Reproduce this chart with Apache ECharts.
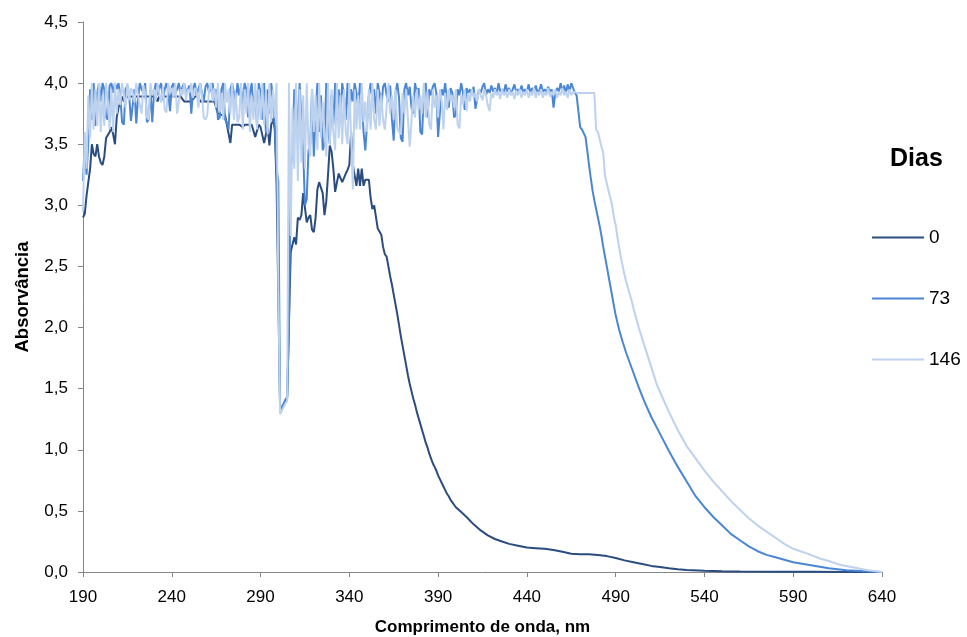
<!DOCTYPE html>
<html>
<head>
<meta charset="utf-8">
<script src="https://cdn.jsdelivr.net/npm/echarts@6/dist/echarts.min.js"></script>
<style>
  html, body { margin: 0; padding: 0; background: #ffffff; }
  #chart { width: 967px; height: 637px; }
</style>
</head>
<body>
<div id="chart"></div>
<script>
// UV-Vis absorbance spectra, one scan per storage time (days)
const seriesNames = ['0', '73', '146'];
const seriesColors = ['#2b4c7e', '#4a86d4', '#bcd2ef'];

// Scanned region recorded every 1 nm, starting here
const scanStart = 190;

// Day 0: 190-400 nm, 1 nm step
const dias0Scan = [
  2.9, 2.93, 3.08, 3.07, 3.3, 3.5, 3.42, 3.4, 3.5, 3.4,
  3.35, 3.33, 3.4, 3.55, 3.56, 3.6, 3.64, 3.58, 3.5, 3.72,
  3.8, 3.8, 3.89, 3.85, 3.85, 3.89, 3.89, 3.89, 3.89, 3.89,
  3.89, 3.89, 3.89, 3.89, 3.89, 3.89, 3.89, 3.89, 3.89, 3.89,
  3.89, 3.89, 3.85, 3.89, 3.89, 3.89, 3.89, 3.89, 3.89, 3.89,
  3.89, 3.89, 3.89, 3.89, 3.89, 3.89, 3.89, 3.85, 3.85, 3.85,
  3.85, 3.85, 3.85, 3.89, 3.89, 3.89, 3.85, 3.85, 3.85, 3.85,
  3.85, 3.85, 3.85, 3.85, 3.85, 3.85, 3.75, 3.74, 3.74, 3.74,
  3.74, 3.66, 3.66, 3.51, 3.66, 3.66, 3.66, 3.66, 3.66, 3.66,
  3.64, 3.66, 3.66, 3.66, 3.66, 3.66, 3.66, 3.56, 3.57, 3.66,
  3.64, 3.64, 3.51, 3.58, 3.64, 3.49, 3.66, 3.71, 3.62, 3.19,
  3.19, 1.33, 1.35, 1.37, 1.4, 1.43, 2.06, 2.62, 2.68, 2.74,
  2.68, 2.9, 2.88, 2.92, 3.1, 3.11, 2.86, 2.9, 2.92, 2.8,
  2.78, 2.9, 3.13, 3.19, 3.19, 3.1, 2.92, 3.03, 3.25, 3.49,
  3.44, 3.3, 3.11, 3.1, 3.26, 3.26, 3.19, 3.19, 3.26, 3.29,
  3.33, 3.6, 3.33, 3.33, 3.16, 3.3, 3.16, 3.3, 3.16, 3.21,
  3.21, 3.21, 3.06, 2.97, 3.0, 3.0, 2.81, 2.8, 2.76, 2.66,
  2.6, 2.58, 2.5, 2.42, 2.35, 2.27, 2.19, 2.11, 2.02, 1.93,
  1.85, 1.77, 1.69, 1.61, 1.54, 1.48, 1.42, 1.37, 1.31, 1.26,
  1.21, 1.16, 1.11, 1.06, 1.02, 0.97, 0.93, 0.89, 0.86, 0.83,
  0.79, 0.76, 0.73, 0.7, 0.67, 0.64, 0.62, 0.59, 0.57, 0.55,
  0.53
];
const dias0Tail = [
  [403, 0.49], [406, 0.45], [410, 0.39], [414, 0.34], [418, 0.3], [422, 0.27],
  [426, 0.25], [430, 0.23], [435, 0.215], [440, 0.2], [445, 0.195], [450, 0.19],
  [455, 0.18], [460, 0.165], [465, 0.15], [470, 0.145], [475, 0.145], [480, 0.14],
  [485, 0.13], [490, 0.115], [495, 0.095], [500, 0.08], [505, 0.065], [510, 0.05],
  [515, 0.04], [520, 0.03], [525, 0.022], [530, 0.017], [540, 0.01], [550, 0.006],
  [560, 0.004], [580, 0.002], [600, 0.002], [620, 0.001], [640, 0]
];

// Day 73: 190-490 nm, 1 nm step
const dias73Scan = [
  3.2, 3.5, 3.25, 3.52, 3.95, 3.7, 4.0, 3.65, 3.92, 4.0,
  3.85, 4.0, 3.95, 3.72, 3.7, 3.98, 4.0, 3.92, 4.0, 3.95,
  4.0, 3.9, 3.68, 3.66, 3.95, 3.98, 3.9, 3.69, 3.68, 3.95,
  3.67, 3.88, 4.0, 3.95, 3.92, 4.0, 3.68, 3.7, 3.95, 3.68,
  3.92, 4.0, 3.9, 3.96, 4.0, 3.86, 3.95, 4.0, 3.93, 3.77,
  3.97, 4.0, 3.92, 3.95, 4.0, 3.9, 3.97, 4.0, 3.92, 3.95,
  3.98, 3.75, 3.95, 4.0, 3.9, 3.95, 4.0, 3.92, 3.85, 3.97,
  4.0, 3.92, 3.96, 4.0, 3.86, 3.95, 3.7, 3.72, 3.95, 4.0,
  3.7, 3.68, 3.62, 3.95, 4.0, 3.92, 3.85, 4.0, 3.9, 3.97,
  3.82, 4.0, 3.95, 3.72, 3.92, 4.0, 3.78, 3.95, 3.65, 4.0,
  3.92, 3.7, 4.0, 3.6, 3.95, 3.75, 4.0, 3.88, 3.65, 3.3,
  3.2, 1.32, 1.35, 1.38, 1.41, 1.43, 2.0, 3.3, 3.45, 3.95,
  3.9, 3.55, 4.0, 3.7, 3.45, 3.0, 3.05, 3.45, 3.5, 3.95,
  3.4, 3.75, 4.0, 3.6, 3.9, 3.45, 3.5, 4.0, 3.62, 3.5,
  3.9, 3.66, 4.0, 3.7, 3.95, 3.75, 4.0, 3.9, 3.7, 4.0,
  3.72, 3.95, 3.85, 4.0, 3.92, 3.8, 4.0, 3.9, 3.6, 3.45,
  3.44, 3.9, 4.0, 3.85, 3.95, 3.75, 4.0, 3.92, 3.8, 3.97,
  4.0, 3.9, 3.85, 3.98, 3.7, 3.53, 3.92, 4.0, 3.88, 3.55,
  3.52, 3.95, 4.0, 3.9, 3.97, 3.8, 3.75, 4.0, 3.92, 3.96,
  3.6, 3.58, 3.95, 4.0, 3.72, 3.95, 3.9, 3.97, 4.0, 3.92,
  3.56, 3.55, 3.95, 3.9, 4.0, 3.85, 3.8, 3.96, 3.92, 3.72,
  3.74, 3.95, 3.9, 4.0, 3.92, 3.78, 3.96, 3.92, 3.95, 3.9,
  3.97, 3.79, 3.8, 3.95, 3.92, 3.97, 4.0, 3.9, 3.95, 3.92,
  3.98, 3.93, 3.96, 3.91, 4.0, 3.93, 3.95, 3.92, 3.99, 3.93,
  3.96, 3.91, 3.95, 3.99, 3.92, 3.95, 3.93, 3.98, 3.92, 3.95,
  3.93, 3.99, 3.92, 3.96, 3.93, 3.98, 3.92, 3.94, 3.99, 3.93,
  3.95, 3.92, 3.97, 3.93, 3.95, 3.8, 3.92, 3.96, 3.93, 4.0,
  3.93, 3.98, 3.92, 3.99, 3.93, 4.0, 3.96, 3.92, 3.9, 3.77,
  3.64, 3.62, 3.62, 3.56, 3.45, 3.33, 3.22, 3.12, 3.04, 2.97,
  2.9, 2.83, 2.75, 2.66, 2.58, 2.5, 2.42, 2.34, 2.26, 2.18,
  2.1
];
const dias73Tail = [
  [492, 1.98], [494, 1.88], [496, 1.79], [498, 1.71], [500, 1.63], [503, 1.51],
  [506, 1.4], [510, 1.27], [515, 1.13], [520, 0.99], [525, 0.86], [530, 0.74],
  [535, 0.62], [540, 0.53], [545, 0.45], [550, 0.38], [555, 0.31], [560, 0.26],
  [565, 0.21], [570, 0.17], [575, 0.14], [580, 0.12], [590, 0.08], [600, 0.055],
  [610, 0.03], [620, 0.015], [630, 0.006], [640, 0]
];

// Day 146: 190-500 nm, 1 nm step
const dias146Scan = [
  2.95, 3.6, 3.3, 3.9, 3.55, 4.0, 3.62, 3.95, 3.65, 4.0,
  3.6, 3.9, 3.65, 4.0, 3.85, 3.62, 3.95, 3.6, 4.0, 3.75,
  3.95, 3.82, 4.0, 3.9, 3.8, 4.0, 3.86, 3.96, 3.92, 3.84,
  4.0, 3.9, 3.82, 3.75, 3.98, 3.92, 3.72, 3.7, 4.0, 3.9,
  3.95, 3.86, 4.0, 3.92, 3.84, 3.97, 3.78, 3.76, 4.0, 3.92,
  3.96, 3.88, 4.0, 3.75, 3.76, 3.95, 3.9, 4.0, 3.86, 3.95,
  3.92, 4.0, 3.88, 3.96, 3.93, 3.8, 4.0, 3.9, 3.72, 3.7,
  3.74, 3.95, 4.0, 3.85, 3.96, 3.8, 4.0, 3.76, 3.92, 3.7,
  4.0, 3.84, 3.95, 3.75, 4.0, 3.7, 3.92, 3.68, 3.72, 4.0,
  3.62, 3.95, 3.75, 4.0, 3.6, 3.9, 3.7, 4.0, 3.62, 3.95,
  3.7, 4.0, 3.66, 3.92, 3.58, 4.0, 3.68, 3.95, 3.72, 4.0,
  2.33, 1.29, 1.32, 1.35, 1.38, 1.4, 4.0, 2.75, 3.8, 3.3,
  4.0, 3.2, 3.95, 3.35, 3.9, 3.3, 4.0, 3.5, 3.4, 3.95,
  3.6, 3.9, 3.45, 4.0, 3.55, 3.85, 3.6, 3.4, 4.0, 3.5,
  3.95, 3.6, 3.45, 4.0, 3.55, 3.9, 3.5, 3.95, 3.6, 3.5,
  4.0, 3.55, 3.13, 3.95, 3.62, 3.9, 3.62, 4.0, 3.68, 3.85,
  3.6, 3.95, 3.62, 4.0, 3.7, 3.62, 3.95, 3.65, 3.9, 3.7,
  3.62, 3.61, 4.0, 3.75, 3.9, 3.7, 3.95, 3.63, 3.6, 3.58,
  3.92, 3.75, 3.95, 3.7, 3.48, 3.47, 3.9, 3.72, 3.95, 3.78,
  3.9, 3.75, 4.0, 3.72, 3.93, 3.66, 3.62, 3.95, 3.8, 3.9,
  3.72, 3.95, 3.85, 3.62, 3.92, 3.78, 3.95, 3.85, 3.9, 3.8,
  3.95, 3.66, 3.63, 3.9, 3.82, 3.95, 3.77, 3.92, 3.85, 3.95,
  3.88, 3.92, 3.85, 3.95, 3.9, 3.86, 3.95, 3.9, 3.82, 3.77,
  3.92, 3.88, 3.95, 3.9, 3.93, 3.87, 3.95, 3.9, 3.93, 3.88,
  3.95, 3.9, 3.93, 3.87, 3.94, 3.9, 3.95, 3.88, 3.93, 3.9,
  3.95, 3.88, 3.93, 3.9, 3.96, 3.88, 3.93, 3.9, 3.95, 3.88,
  3.93, 3.9, 3.96, 3.89, 3.93, 3.9, 3.95, 3.88, 3.93, 3.9,
  3.96, 3.9, 3.93, 3.88, 3.95, 3.9, 3.93, 3.92, 3.92, 3.92,
  3.92, 3.92, 3.92, 3.92, 3.92, 3.92, 3.92, 3.92, 3.92, 3.62,
  3.6, 3.54, 3.48, 3.43, 3.24, 3.18, 3.12, 3.06, 3.0, 2.9,
  2.84, 2.74, 2.65, 2.57, 2.5, 2.43, 2.37, 2.32, 2.27, 2.22,
  2.16
];
const dias146Tail = [
  [503, 2.0], [506, 1.86], [510, 1.68], [513, 1.54], [516, 1.44], [520, 1.31],
  [525, 1.16], [530, 1.03], [534, 0.95], [540, 0.83], [545, 0.74], [550, 0.66],
  [555, 0.58], [560, 0.51], [565, 0.44], [570, 0.38], [575, 0.33], [580, 0.28],
  [585, 0.23], [590, 0.19], [598, 0.15], [605, 0.11], [610, 0.09], [616, 0.06],
  [625, 0.035], [632, 0.015], [640, 0]
];

// Axis ranges and ticks
const xMin = 190, xMax = 640, xStep = 50;
const yMin = 0, yMax = 4.5, yStep = 0.5;

function scanPoints(values) {
  return values.map((v, i) => [scanStart + i, v]);
}

const seriesData = [
  scanPoints(dias0Scan).concat(dias0Tail),
  scanPoints(dias73Scan).concat(dias73Tail),
  scanPoints(dias146Scan).concat(dias146Tail)
];

const fontFamily = "'Liberation Sans', Arial, sans-serif";
const axisGray = '#868686';

const chart = echarts.init(document.getElementById('chart'), null, { renderer: 'canvas' });

chart.setOption({
  animation: false,
  backgroundColor: '#ffffff',
  title: {
    text: 'Dias',
    left: 885,
    top: 142,
    textStyle: { fontFamily, fontSize: 25, fontWeight: 'bold', color: '#000000' }
  },
  legend: {
    orient: 'vertical',
    left: 867,
    top: 223,
    icon: 'rect',
    itemWidth: 52,
    itemHeight: 2,
    itemGap: 42,
    data: seriesNames,
    textStyle: { fontFamily, fontSize: 19, color: '#000000' }
  },
  grid: {
    left: 83, right: 85, top: 22, bottom: 65,
    containLabel: false,
    outerBoundsMode: 'none'
  },
  xAxis: {
    type: 'value',
    min: xMin,
    max: xMax,
    interval: xStep,
    name: 'Comprimento de onda, nm',
    nameLocation: 'middle',
    nameGap: 47,
    nameTextStyle: { fontFamily, fontSize: 17, fontWeight: 'bold', color: '#000000' },
    axisLine: { show: true, lineStyle: { color: axisGray, width: 1 } },
    axisTick: { show: true, length: 5, lineStyle: { color: axisGray } },
    axisLabel: { fontFamily, fontSize: 17, color: '#000000', margin: 17 },
    splitLine: { show: false }
  },
  yAxis: {
    type: 'value',
    min: yMin,
    max: yMax,
    interval: yStep,
    name: 'Absorvância',
    nameLocation: 'middle',
    nameRotate: 90,
    nameGap: 51,
    nameTextStyle: { fontFamily, fontSize: 18.5, fontWeight: 'bold', color: '#000000' },
    axisLine: { show: true, lineStyle: { color: axisGray, width: 1 } },
    axisTick: { show: true, length: 5, lineStyle: { color: axisGray } },
    axisLabel: {
      fontFamily, fontSize: 17, color: '#000000', margin: 15,
      formatter: v => v.toFixed(1).replace('.', ',')
    },
    splitLine: { show: false }
  },
  series: seriesNames.map((name, i) => ({
    name,
    type: 'line',
    data: seriesData[i],
    symbol: 'none',
    showSymbol: false,
    smooth: false,
    color: seriesColors[i],
    lineStyle: { color: seriesColors[i], width: 2 },
    emphasis: { disabled: true },
    z: 2 + i
  }))
});
</script>
</body>
</html>
